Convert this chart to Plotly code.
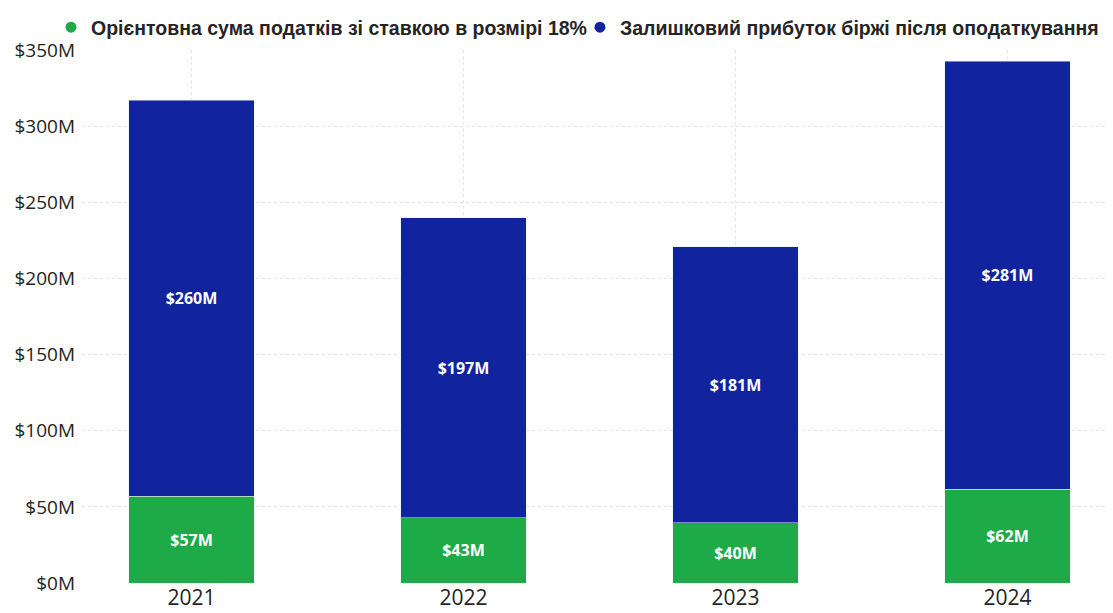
import plotly.graph_objects as go

years = ["2021", "2022", "2023", "2024"]
tax = [57.1, 42.7, 39.5, 61.7]
remaining = [260.0, 197.3, 181.2, 281.0]
tax_name = "Орієнтовна сума податків зі ставкою в розмірі 18%"
rem_name = "Залишковий прибуток біржі після оподаткування"
y_ticks = [0, 50, 100, 150, 200, 250, 300, 350]
y_tick_labels = ["$0M", "$50M", "$100M", "$150M", "$200M", "$250M", "$300M", "$350M"]

GREEN = "#1DAA47"
BLUE = "#12239E"
label_font = dict(family="Open Sans", size=16, color="white", weight="bold")
legend_font = dict(family="Liberation Sans", size=19.5, color="#252423", weight="bold")

fig = go.Figure()
fig.add_trace(go.Bar(x=years, y=tax, name=tax_name, marker_color=GREEN, width=0.46,
                     texttemplate="$%{y:.0f}M", textposition="inside", insidetextanchor="middle",
                     textfont=label_font, constraintext="none", showlegend=False,
                     hoverinfo="skip"))
fig.add_trace(go.Bar(x=years, y=remaining, name=rem_name, marker_color=BLUE, width=0.46,
                     texttemplate="$%{y:.0f}M", textposition="inside", insidetextanchor="middle",
                     textfont=label_font, constraintext="none", showlegend=False,
                     hoverinfo="skip"))
# legend entries with circle markers (one legend per entry for exact placement)
fig.add_trace(go.Scatter(x=[None], y=[None], mode="markers", name=tax_name, legend="legend",
                         marker=dict(color=GREEN, size=11, symbol="circle")))
fig.add_trace(go.Scatter(x=[None], y=[None], mode="markers", name=rem_name, legend="legend2",
                         marker=dict(color=BLUE, size=11, symbol="circle")))

fig.update_layout(
    barmode="stack",
    width=1105, height=605,
    margin=dict(l=74, r=3, t=42, b=30, autoexpand=False),
    paper_bgcolor="white", plot_bgcolor="white",
    legend=dict(xref="container", yref="container", x=0.0389, xanchor="left",
                y=1.0, yanchor="top",
                font=legend_font, itemwidth=30, bgcolor="rgba(0,0,0,0)"),
    legend2=dict(xref="container", yref="container", x=0.5176, xanchor="left",
                 y=1.0, yanchor="top",
                 font=legend_font, itemwidth=30, bgcolor="rgba(0,0,0,0)"),
    xaxis=dict(type="category", range=[-0.4026, 3.377],
               tickfont=dict(family="Open Sans", size=21, color="#252423"),
               showgrid=True, gridcolor="#e3e3e3", griddash="dot", gridwidth=1,
               showline=False, ticks="", zeroline=False),
    yaxis=dict(range=[0, 350], tickvals=y_ticks, ticktext=y_tick_labels,
               tickfont=dict(family="Open Sans", size=19, color="#252423"),
               showgrid=True, gridcolor="#e3e3e3", griddash="dot", gridwidth=1,
               zeroline=False, showline=False, ticks="", ticklabelstandoff=6),
    font=dict(family="Open Sans"),
)

fig.write_html("out.html")
